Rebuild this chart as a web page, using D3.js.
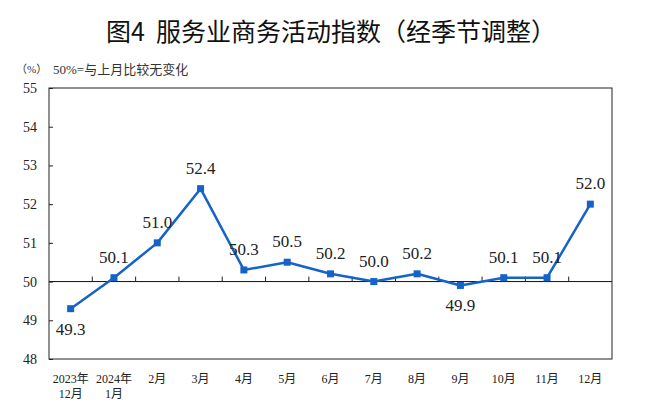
<!DOCTYPE html>
<html><head><meta charset="utf-8">
<script src="https://cdn.jsdelivr.net/npm/d3@7"></script>
<style>
html,body{margin:0;padding:0;background:#fff;}
svg{display:block;}
.serif{font-family:"Liberation Serif","Noto Sans CJK SC",serif;}
</style></head>
<body>
<svg id="chart" width="660" height="410"></svg>
<script>
const categories = ["2023-12","2024-01","2024-02","2024-03","2024-04","2024-05","2024-06","2024-07","2024-08","2024-09","2024-10","2024-11","2024-12"];
const xLabels = [["2023年","12月"],["2024年","1月"],["2月"],["3月"],["4月"],["5月"],["6月"],["7月"],["8月"],["9月"],["10月"],["11月"],["12月"]];
const values = [49.3,50.1,51.0,52.4,50.3,50.5,50.2,50.0,50.2,49.9,50.1,50.1,52.0];
const yTicks = [48,49,50,51,52,53,54,55];
const titleText = "图4  服务业商务活动指数（经季节调整）";
const unitText = "（%）";
const noteText = "50%=与上月比较无变化";

const svg = d3.select("#chart");
const L = 49, R = 612, T = 88, B = 359;
const lineColor = "#1464c8";

const x = d3.scaleBand().domain(categories).range([L, R]).paddingInner(0).paddingOuter(0);
const y = d3.scaleLinear().domain([48, 55]).range([B, T]);
const cx = d => x(d) + x.bandwidth() / 2;

// title
svg.append("text").attr("x", 331).attr("y", 41).attr("text-anchor", "middle")
  .style("font-family", "'Noto Sans CJK SC',sans-serif").style("font-size", "25px").attr("fill", "#111")
  .style("white-space", "pre")
  .text(titleText);

svg.append("text").attr("class", "serif").attr("x", 16).attr("y", 73).style("font-size", "11px").attr("fill", "#333").text(unitText);
svg.append("text").attr("class", "serif").attr("x", 53).attr("y", 74).style("font-size", "13px").attr("fill", "#333").text(noteText);

// frame
svg.append("rect").attr("x", L).attr("y", T).attr("width", R - L).attr("height", B - T)
  .attr("fill", "none").attr("stroke", "#222").attr("stroke-width", 1);

// y axis
const yAxis = d3.axisLeft(y).tickValues(yTicks).tickSize(-4).tickPadding(12).tickFormat(d3.format("d"));
const gy = svg.append("g").attr("transform", `translate(${L},0)`).call(yAxis);
gy.attr("font-family", null).attr("font-size", null);
gy.select(".domain").remove();
gy.selectAll(".tick line").attr("stroke", "#222");
gy.selectAll(".tick text").attr("class", "serif").style("font-size", "14px").attr("fill", "#222");

// 50 line
svg.append("line").attr("x1", L).attr("x2", R).attr("y1", y(50)).attr("y2", y(50))
  .attr("stroke", "#111").attr("stroke-width", 1);

// category boundary ticks on 50 line
svg.append("g").selectAll("line").data(categories.slice(1)).join("line")
  .attr("x1", d => x(d)).attr("x2", d => x(d))
  .attr("y1", y(50)).attr("y2", y(50) - 5)
  .attr("stroke", "#222").attr("stroke-width", 1);

// x labels
const xl = svg.append("g").selectAll("text").data(categories).join("text")
  .attr("class", "serif")
  .attr("x", d => cx(d)).attr("y", 383)
  .attr("text-anchor", "middle").style("font-size", "12px").attr("fill", "#222");
xl.each(function(d, i) {
  const t = d3.select(this);
  xLabels[i].forEach((s, j) => {
    t.append("tspan").attr("x", cx(d)).attr("dy", j === 0 ? 0 : 14.5).text(s);
  });
});

// line
const line = d3.line().x((d, i) => cx(categories[i])).y(d => y(d));
svg.append("path").datum(values).attr("d", line)
  .attr("fill", "none").attr("stroke", lineColor).attr("stroke-width", 2.5).attr("stroke-linejoin", "round");

// markers
const ms = 7;
svg.append("g").selectAll("rect").data(values).join("rect")
  .attr("x", (d, i) => cx(categories[i]) - ms / 2)
  .attr("y", d => y(d) - ms / 2)
  .attr("width", ms).attr("height", ms).attr("fill", lineColor);

// value labels
svg.append("g").selectAll("text").data(values).join("text")
  .attr("class", "serif")
  .attr("x", (d, i) => cx(categories[i]))
  .attr("y", d => d < 50 ? y(d) + 26 : y(d) - 15)
  .attr("text-anchor", "middle").style("font-size", "17px").attr("fill", "#222")
  .text(d => d.toFixed(1));
</script>
</body></html>
